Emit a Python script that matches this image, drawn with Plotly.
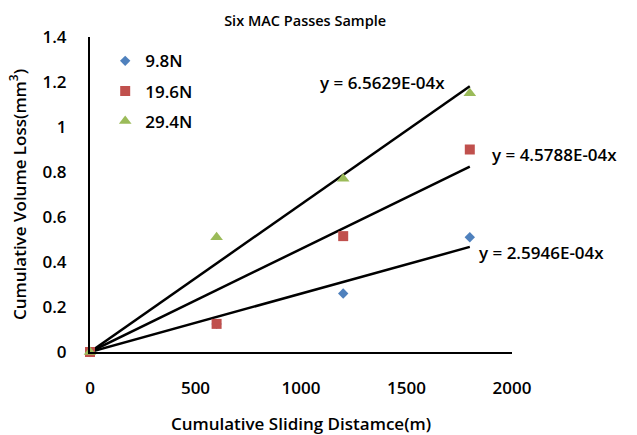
import plotly.graph_objects as go

distance = [0, 600, 1200, 1800]
loss_98 = [0, 0.125, 0.26, 0.51]
loss_196 = [0, 0.125, 0.515, 0.90]
loss_294 = [0, 0.51, 0.77, 1.15]
series_names = ["9.8N", "19.6N", "29.4N"]
slopes = [2.5946e-4, 4.5788e-4, 6.5629e-4]
trend_labels = ["y = 2.5946E-04x", "y = 4.5788E-04x", "y = 6.5629E-04x"]
trend_x = [0, 1800]
label_x = [1834, 1896, 1080]
label_y = [0.444, 0.876, 1.196]

colors = ["#4F81BD", "#C0504D", "#9BBB59"]
symbols = ["diamond", "square", "triangle-up"]
sizes = [8, 10, 11]
values = [loss_98, loss_196, loss_294]
FONT = "Open Sans"

fig = go.Figure()
for s in slopes:
    fig.add_trace(go.Scatter(x=trend_x, y=[s * x for x in trend_x], mode="lines",
                             line=dict(color="black", width=2.5), showlegend=False,
                             cliponaxis=False, hoverinfo="skip"))
for name, v, c, sym, sz in zip(series_names, values, colors, symbols, sizes):
    fig.add_trace(go.Scatter(x=distance, y=v, mode="markers", name=name,
                             legendgroup=name,
                             marker=dict(color=c, symbol=sym, size=sz),
                             cliponaxis=False))

for lab, lx, ly in zip(trend_labels, label_x, label_y):
    fig.add_annotation(x=lx, y=ly, text=lab, showarrow=False, xanchor="left", yanchor="middle",
                       font=dict(family=FONT, size=17, color="black", weight=600))

fig.update_layout(
    width=637, height=435,
    margin=dict(l=90, r=125, t=37, b=83, autoexpand=False),
    paper_bgcolor="white", plot_bgcolor="white",
    title=dict(text="Six MAC Passes Sample", x=0.479, xanchor="center", y=0.952, yanchor="middle",
               font=dict(family=FONT, size=14.5, color="black", weight=600)),
    font=dict(family=FONT, size=17, color="black"),
    legend=dict(x=0.036, y=0.98, xanchor="left", yanchor="top", tracegroupgap=5,
                bgcolor="rgba(0,0,0,0)", font=dict(family=FONT, size=17, weight=600),
                itemwidth=30),
    xaxis=dict(range=[0, 2000], tickvals=[0, 500, 1000, 1500, 2000], showgrid=False,
               zeroline=False, showline=True, linecolor="black", linewidth=2,
               ticks="", ticklabelstandoff=20, automargin=False,
               tickfont=dict(family=FONT, size=17, weight=600),
               title=dict(text="Cumulative Sliding Distamce(m)", standoff=22,
                          font=dict(family=FONT, size=17, weight=600))),
    yaxis=dict(range=[0, 1.4], tickvals=[0, 0.2, 0.4, 0.6, 0.8, 1, 1.2, 1.4],
               ticktext=["0", "0.2", "0.4", "0.6", "0.8", "1", "1.2", "1.4"],
               showgrid=False, zeroline=False, showline=True, linecolor="black", linewidth=2,
               ticks="", ticklabelstandoff=18, automargin=False,
               tickfont=dict(family=FONT, size=17, weight=600),
               title=dict(text="Cumulative Volume Loss(mm<sup>3</sup>)", standoff=12,
                          font=dict(family=FONT, size=17, weight=600))),
)

fig.write_html("out.html")
